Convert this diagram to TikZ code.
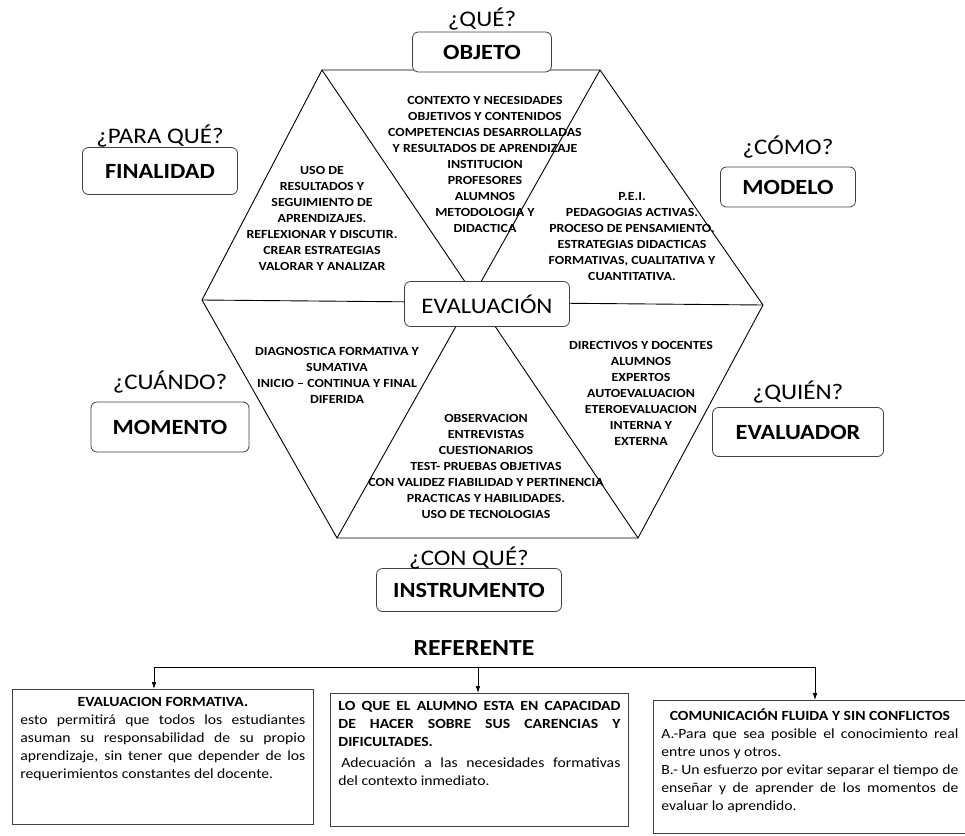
\documentclass[tikz,border=0pt]{standalone}
\usepackage{fontspec}
\setmainfont{Carlito}[FakeStretch=1.12]
\usetikzlibrary{arrows.meta, positioning}
\newcommand{\figArrow}{{Latex[length=2.4mm, width=1.6mm]}}
\newcommand{\refText}[3]{\parbox[t][#1][t]{#2}{#3}}

\begin{document}
\begin{tikzpicture}[x=1pt, y=-1pt,
	campo/.style={draw=black!75, line width=0.8pt, rounded corners=6pt, fill=white, inner sep=0pt, font=\fontsize{21.7}{24}\selectfont\bfseries},
	pregunta/.style={inner sep=0pt, font=\fontsize{22.3}{24}\selectfont},
	sector/.style={align=center, inner sep=0pt, font=\fontsize{12.4}{16}\selectfont\bfseries},
	refbox/.style={draw=black!75, line width=0.8pt, anchor=north west, inner sep=8pt, font=\fontsize{14}{18}\selectfont}]
	\useasboundingbox (0,0) rectangle (965,835);

	\coordinate (TL) at (322,70);
	\coordinate (TR) at (600,70);
	\coordinate (R) at (763,305);
	\coordinate (BR) at (638,538);
	\coordinate (BL) at (337,538);
	\coordinate (L) at (202,300);

	\draw[line width=0.9pt]	(TL) -- (TR) -- (R) -- (BR) -- (BL) -- (L) -- cycle;
	\draw[line width=0.9pt]	(L) -- (R);
	\draw[line width=0.9pt]	(TL) -- (BR);
	\draw[line width=0.9pt]	(TR) -- (BL);

	\node[campo, font=\fontsize{22.2}{24}\selectfont, minimum width=165pt, minimum height=45pt] (evaluacion) at (487,304) {EVALUACIÓN};

	\foreach \name/\x/\y/\w/\h/\gap/\preg/\lbl in {
		objeto/482/52/139/40/5/¿QUÉ?/OBJETO,
		finalidad/160/171/155/47/4/¿PARA QUÉ?/FINALIDAD,
		modelo/788/187/135/40/12/¿CÓMO?/MODELO,
		momento/170/427/158/50/12/¿CUÁNDO?/MOMENTO,
		evaluador/798/432/171/49/8/¿QUIÉN?/EVALUADOR,
		instrumento/469/590/185/43/3/¿CON QUÉ?/INSTRUMENTO} {
		\node[campo, minimum width=\w pt, minimum height=\h pt] (\name) at (\x,\y) {\lbl};
		\node[pregunta, above=\gap pt of \name, anchor=base] (\name-q) {\preg};
	}

	\node[sector] (queTxt) at (485,164) {CONTEXTO Y NECESIDADES\\OBJETIVOS Y CONTENIDOS\\COMPETENCIAS DESARROLLADAS\\Y RESULTADOS DE APRENDIZAJE\\INSTITUCION\\PROFESORES\\ALUMNOS\\METODOLOGIA Y\\DIDACTICA};
	\node[sector] (paraTxt) at (322,218) {USO DE\\RESULTADOS Y\\SEGUIMIENTO DE\\APRENDIZAJES.\\REFLEXIONAR Y DISCUTIR.\\CREAR ESTRATEGIAS\\VALORAR Y ANALIZAR};
	\node[sector] (comoTxt) at (632,237) {P.E.I.\\PEDAGOGIAS ACTIVAS.\\PROCESO DE PENSAMIENTO.\\ESTRATEGIAS DIDACTICAS\\FORMATIVAS, CUALITATIVA Y\\CUANTITATIVA.};
	\node[sector] (cuandoTxt) at (337,375) {DIAGNOSTICA FORMATIVA Y\\SUMATIVA\\INICIO -- CONTINUA Y FINAL\\DIFERIDA};
	\node[sector] (quienTxt) at (641,393) {DIRECTIVOS Y DOCENTES\\ALUMNOS\\EXPERTOS\\AUTOEVALUACION\\ETEROEVALUACION\\INTERNA Y\\EXTERNA};
	\node[sector] (conTxt) at (486,466) {OBSERVACION\\ENTREVISTAS\\CUESTIONARIOS\\TEST- PRUEBAS OBJETIVAS\\CON VALIDEZ FIABILIDAD Y PERTINENCIA\\PRACTICAS Y HABILIDADES.\\USO DE TECNOLOGIAS};

	\node[font=\fontsize{23}{26}\selectfont\bfseries] (referente) at (474,648) {REFERENTE};

	\node[refbox] (ref1) at (12,689) {\refText{119pt}{285pt}{{\centering\bfseries EVALUACION FORMATIVA.\par}esto permitirá que todos los estudiantes\linebreak asuman su responsabilidad de su propio\linebreak aprendizaje, sin tener que depender de los\linebreak requerimientos constantes del docente.}};
	\node[refbox] (ref2) at (330,693) {\refText{117pt}{282pt}{{\bfseries LO QUE EL ALUMNO ESTA EN CAPACIDAD\linebreak DE HACER SOBRE SUS CARENCIAS Y\linebreak DIFICULTADES.\par}\vspace{3pt}\hspace*{3pt}Adecuación a las necesidades formativas\linebreak del contexto inmediato.}};
	\node[refbox] (ref3) at (653,700) {\refText{117pt}{297pt}{{\centering\bfseries COMUNICACIÓN FLUIDA Y SIN CONFLICTOS\par}A.-Para que sea posible el conocimiento real\linebreak entre unos y otros.\par B.- Un esfuerzo por evitar separar el tiempo de\linebreak enseñar y de aprender de los momentos de\linebreak evaluar lo aprendido.}};

	\coordinate (r1) at (154,667);
	\coordinate (r2) at (478,667);
	\coordinate (r3) at (815,667);
	\draw[line width=0.8pt]	(r1) -- (r3);
	\foreach \i in {1,2,3} {
		\draw[line width=0.8pt, -\figArrow]	(r\i) -- (r\i |- ref\i.north);
	}

\end{tikzpicture}
\end{document}
